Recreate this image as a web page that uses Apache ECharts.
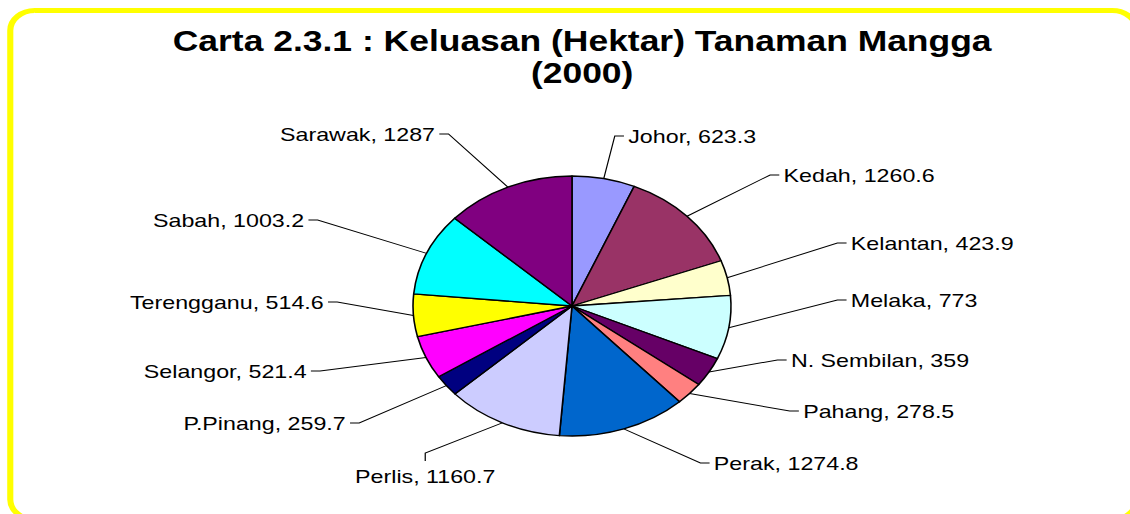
<!DOCTYPE html>
<html>
<head>
<meta charset="utf-8">
<script src="https://cdn.jsdelivr.net/npm/echarts@6/dist/echarts.min.js"></script>
<style>
  html, body { margin: 0; padding: 0; background: #ffffff; overflow: hidden; }
  #wrap { width: 1130px; height: 514px; overflow: hidden; position: relative; }
  /* the reference picture is stretched horizontally; reproduce it with a horizontal scale */
  #chart { width: 924px; height: 514px; transform: scaleX(1.223); transform-origin: 0 0; }
</style>
</head>
<body>
<div id="wrap"><div id="chart"></div></div>
<script>
// ---------------- data ----------------
var states = ['Johor', 'Kedah', 'Kelantan', 'Melaka', 'N. Sembilan', 'Pahang', 'Perak',
              'Perlis', 'P.Pinang', 'Selangor', 'Terengganu', 'Sabah', 'Sarawak'];
var hectares = [623.3, 1260.6, 423.9, 773, 359, 278.5, 1274.8,
                1160.7, 259.7, 521.4, 514.6, 1003.2, 1287];
var titleLines = ['Carta 2.3.1 : Keluasan (Hektar) Tanaman Mangga', '(2000)'];

// ---------------- styling / layout ----------------
var sliceColors = ['#9999FF', '#993366', '#FFFFCC', '#CCFFFF', '#660066', '#FF8080', '#0066CC',
                   '#CCCCFF', '#000080', '#FF00FF', '#FFFF00', '#00FFFF', '#800080'];
var PIE_CENTER = [467.7, 306];
var PIE_RADIUS = 130;
// elbow of each leader line, relative to the pie centre, and the side the text sits on
var labelElbows = [[35, -170], [162, -131], [217, -63], [217, -6], [168, 54], [178, 105], [105, 157],
                   [-120, 147], [-174, 117], [-206, 65], [-192, -4], [-208, -86], [-101, -172]];
var labelSides = ['right', 'right', 'right', 'right', 'right', 'right', 'right',
                  'below', 'left', 'left', 'left', 'left', 'left'];

var FONT = '"Liberation Sans", Arial, "Noto Sans", sans-serif';

var pieData = states.map(function (s, i) {
  return { name: s, value: hectares[i], itemStyle: { color: sliceColors[i] } };
});

var total = hectares.reduce(function (a, b) { return a + b; }, 0);
function edgePoint(i) {
  var before = 0;
  for (var k = 0; k < i; k++) before += hectares[k];
  var mid = (before + hectares[i] / 2) / total * Math.PI * 2;
  return [PIE_CENTER[0] + PIE_RADIUS * Math.sin(mid), PIE_CENTER[1] - PIE_RADIUS * Math.cos(mid)];
}

var chart = echarts.init(document.getElementById('chart'), null, { renderer: 'svg' });
chart.setOption({
  animation: false,
  backgroundColor: '#ffffff',
  graphic: [{
    type: 'rect',
    z: -10,
    silent: true,
    shape: { x: 8.4, y: 10.5, width: 921, height: 509, r: 20 },
    style: { fill: '#ffffff', stroke: '#FFFF00', lineWidth: 5 }
  }],
  title: {
    text: titleLines.join('\n'),
    left: 476,
    top: 25.5,
    textAlign: 'center',
    padding: 0,
    textStyle: {
      fontFamily: FONT,
      fontSize: 29,
      fontWeight: 'bold',
      color: '#000000',
      lineHeight: 32
    }
  },
  series: [{
    type: 'pie',
    center: PIE_CENTER,
    radius: PIE_RADIUS,
    startAngle: 90,
    clockwise: true,
    avoidLabelOverlap: false,
    data: pieData,
    itemStyle: { borderColor: '#000000', borderWidth: 1.3 },
    emphasis: { disabled: true },
    label: {
      show: true,
      position: 'outside',
      formatter: '{b}, {c}',
      fontFamily: FONT,
      fontSize: 19,
      color: '#000000'
    },
    labelLine: {
      show: true,
      length: 20,
      length2: 10,
      smooth: false,
      lineStyle: { color: '#000000', width: 1 }
    },
    labelLayout: function (p) {
      var i = p.dataIndex;
      var ex = PIE_CENTER[0] + labelElbows[i][0];
      var ey = PIE_CENTER[1] + labelElbows[i][1];
      var edge = (p.labelLinePoints && p.labelLinePoints[0]) ? p.labelLinePoints[0] : edgePoint(i);
      var side = labelSides[i];
      if (side === 'below') {
        return {
          x: ex, y: ey + 23, align: 'center', verticalAlign: 'middle',
          hideOverlap: false, moveOverlap: false,
          labelLinePoints: [edge, [ex, ey], [ex, ey + 8]]
        };
      }
      var dir = side === 'right' ? 1 : -1;
      return {
        x: ex + dir * 11, y: ey, align: side === 'right' ? 'left' : 'right', verticalAlign: 'middle',
        hideOverlap: false, moveOverlap: false,
        labelLinePoints: [edge, [ex, ey], [ex + dir * 7.5, ey]]
      };
    }
  }]
});
</script>
</body>
</html>
